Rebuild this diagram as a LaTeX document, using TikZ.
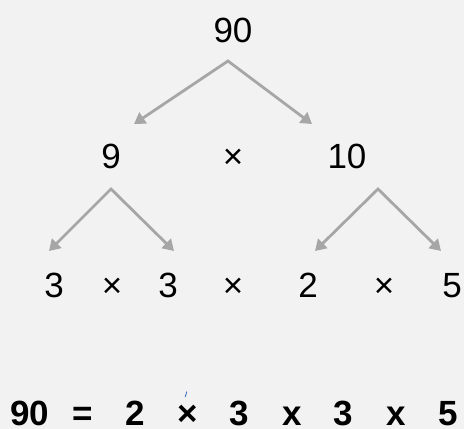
\documentclass[tikz,border=0pt]{standalone}
\usepackage{fontspec}
\setmainfont{Liberation Sans}
\usetikzlibrary{arrows.meta}
\definecolor{bg}{HTML}{F2F2F2}
\definecolor{ln}{HTML}{A6A6A6}
\definecolor{tickc}{HTML}{4472C4}
\begin{document}
\begin{tikzpicture}[x=1pt,y=-1pt,
  num/.style={anchor=base,inner sep=0pt,font=\fontsize{35}{42}\selectfont},
  bnum/.style={anchor=base,inner sep=0pt,font=\fontsize{35}{42}\selectfont\bfseries},
  arr/.style={draw=ln,line width=2.8pt,line join=miter,
    {Triangle[length=11pt,width=13pt]}-{Triangle[length=11pt,width=13pt]}}]
\fill[bg] (0,0) rectangle (464,429);
\useasboundingbox (0,0) rectangle (464,429);
% level 0
\node[num] (n90) at (233,42) {90};
% level 1
\node[num] (n9) at (111,168) {9};
\node[num] (m1) at (233,168) {×};
\node[num] (n10) at (347,168) {10};
% level 2
\node[num] (l3a) at (54,297) {3};
\node[num] (m2) at (112,297) {×};
\node[num] (l3b) at (168,297) {3};
\node[num] (m3) at (233,297) {×};
\node[num] (l2) at (308,297) {2};
\node[num] (m4) at (384,297) {×};
\node[num] (l5) at (452,297) {5};
% result line
\node[bnum] (r90) at (30,425) {90};
\node[bnum] (req) at (83,425) {=};
\node[bnum] (r2) at (135,425) {2};
\node[bnum] (rm1) at (188,425) {×};
\node[bnum] (r3a) at (239,425) {3};
\node[bnum] (rx1) at (292,425) {x};
\node[bnum] (r3b) at (343,425) {3};
\node[bnum] (rx2) at (396,425) {x};
\node[bnum] (r5) at (448,425) {5};
% connector points
\coordinate (a90) at (228,61);
\coordinate (t9) at (134,124);
\coordinate (t10) at (312,124);
\coordinate (a9) at (111,189);
\coordinate (t3a) at (49,251);
\coordinate (t3b) at (174,251);
\coordinate (a10) at (378,189);
\coordinate (t2) at (315,251);
\coordinate (t5) at (441,251);
\draw[arr] (t9) -- (a90) -- (t10);
\draw[arr] (t3a) -- (a9) -- (t3b);
\draw[arr] (t2) -- (a10) -- (t5);
% small blue mark
\coordinate (bk1) at (185.2,397);
\coordinate (bk2) at (186.8,391.5);
\draw[tickc,line width=0.9pt] (bk1) -- (bk2);
\end{tikzpicture}
\end{document}
